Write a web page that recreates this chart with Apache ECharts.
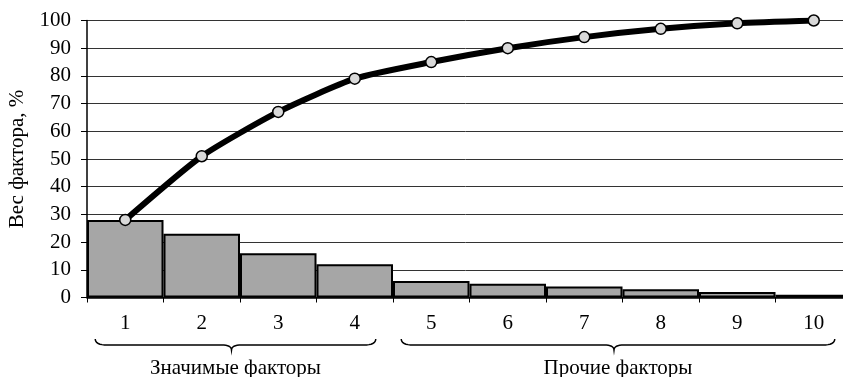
<!DOCTYPE html>
<html>
<head>
<meta charset="utf-8">
<script src="https://cdn.jsdelivr.net/npm/echarts@6/dist/echarts.min.js"></script>
<style>html,body{margin:0;padding:0;background:#fff;}#c{width:843px;height:377px;}</style>
</head>
<body>
<div id="c"></div>
<script>
const categories = ['1','2','3','4','5','6','7','8','9','10'];
const factorWeights = [28, 23, 16, 12, 6, 5, 4, 3, 2, 1];
const cumulativeWeights = [28, 51, 67, 79, 85, 90, 94, 97, 99, 100];
const yTicks = [0, 10, 20, 30, 40, 50, 60, 70, 80, 90, 100];
const yAxisTitle = 'Вес фактора, %';
const groupLabels = ['Значимые факторы', 'Прочие факторы'];
const groupStart = [0, 4];
const groupEnd = [3, 9];

const FONT = '"Liberation Serif", "DejaVu Serif", serif';
const chart = echarts.init(document.getElementById('c'), null, {renderer: 'canvas'});
chart.setOption({
  animation: false,
  backgroundColor: '#fff',
  grid: {left: 87, top: 20.5, width: 765, height: 277, outerBoundsMode: 'none', containLabel: false},
  xAxis: {
    type: 'category',
    data: categories,
    boundaryGap: true,
    axisLine: {lineStyle: {color: '#000', width: 1.5}},
    axisTick: {show: true, length: 5, inside: false, lineStyle: {color: '#000', width: 1}},
    axisLabel: {margin: 15, color: '#000', fontFamily: FONT, fontSize: 21},
    splitLine: {show: false}
  },
  yAxis: {
    type: 'value',
    min: yTicks[0],
    max: yTicks[yTicks.length - 1],
    interval: 10,
    name: yAxisTitle,
    nameLocation: 'middle',
    nameRotate: 90,
    nameGap: 59,
    nameTextStyle: {color: '#000', fontFamily: FONT, fontSize: 21},
    axisLine: {show: true, lineStyle: {color: '#000', width: 1.5}},
    axisTick: {show: true, length: 6, lineStyle: {color: '#000', width: 1}},
    axisLabel: {margin: 16, color: '#000', fontFamily: FONT, fontSize: 21},
    splitLine: {show: true, lineStyle: {color: '#333', width: 1}}
  },
  series: [
    {
      type: 'bar',
      data: factorWeights,
      barCategoryGap: '0%',
      itemStyle: {color: '#a6a6a6', borderColor: '#000', borderWidth: 2},
      z: 2
    },
    {
      type: 'line',
      data: cumulativeWeights,
      smooth: 0.2,
      symbol: 'circle',
      symbolSize: 11,
      lineStyle: {color: '#000', width: 6},
      itemStyle: {color: '#d9d9d9', borderColor: '#000', borderWidth: 1.5},
      z: 3
    }
  ]
});

function quad(p0, p1, p2, n) {
  const out = [];
  for (let i = 0; i <= n; i++) {
    const t = i / n, a = (1 - t) * (1 - t), b = 2 * (1 - t) * t, c = t * t;
    out.push([a * p0[0] + b * p1[0] + c * p2[0], a * p0[1] + b * p1[1] + c * p2[1]]);
  }
  return out;
}

const graphics = [];
const yBrace = 345;
for (let g = 0; g < groupLabels.length; g++) {
  const cs = chart.convertToPixel({xAxisIndex: 0}, groupStart[g]);
  const ce = chart.convertToPixel({xAxisIndex: 0}, groupEnd[g]);
  const L = cs - 30, R = ce + 21, M = (L + R) / 2 - 4;
  const y = yBrace;
  let pts = [];
  pts = pts.concat(quad([L, y - 6], [L, y], [L + 12, y], 8));
  pts = pts.concat(quad([M - 10, y], [M, y], [M, y + 5], 8));
  pts = pts.concat(quad([M, y + 5], [M, y], [M + 10, y], 8));
  pts = pts.concat(quad([R - 12, y], [R, y], [R, y - 6], 8));
  graphics.push({
    type: 'polyline',
    shape: {points: pts},
    style: {fill: null, stroke: '#000', lineWidth: 1.5}
  });
  graphics.push({
    type: 'text',
    x: (L + R) / 2,
    y: 368,
    style: {text: groupLabels[g], fill: '#000', font: '21px ' + FONT, align: 'center', verticalAlign: 'middle'}
  });
}
chart.setOption({graphic: graphics});
</script>
</body>
</html>
